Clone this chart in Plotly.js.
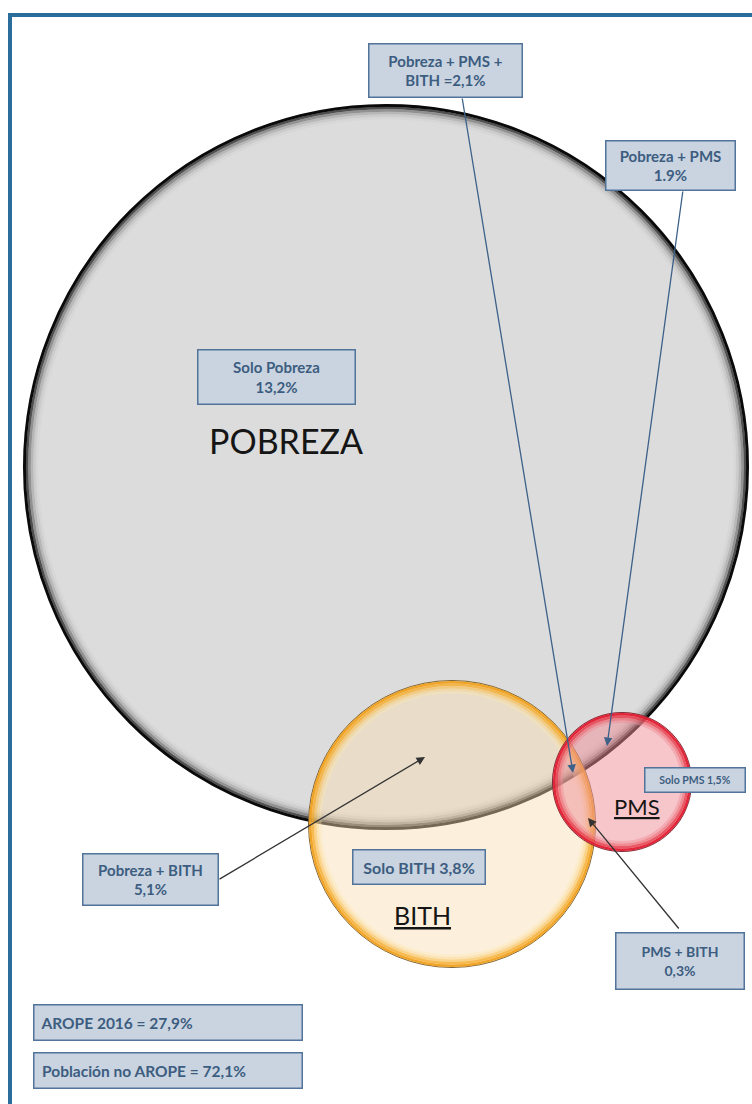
<!DOCTYPE html>
<html>
<head>
<meta charset="utf-8">
<script src="https://cdn.plot.ly/plotly-3.0.1.min.js"></script>
<style>html,body{margin:0;padding:0;background:#fff;}#chart{width:752px;height:1104px;}</style>
</head>
<body>
<div id="chart"></div>
<script>
// ---- data ----
const setNames = ["POBREZA", "BITH", "PMS"];
const regionNames = ["Pobreza + PMS +<br>BITH", "Pobreza + PMS", "Solo Pobreza", "Solo PMS", "Pobreza + BITH", "Solo BITH", "PMS + BITH"];
const regionValues = ["2,1%", "1.9%", "13,2%", "1,5%", "5,1%", "3,8%", "0,3%"];
const regionSeparators = [" =", "<br>", "<br>", " ", "<br>", " ", "<br>"];
const totalNames = ["AROPE 2016", "Población no AROPE"];
const totalValues = ["27,9%", "72,1%"];

// ---- layout (positions / styles) ----
const circleGeom = {
  POBREZA: {cx: 386, cy: 467, r: 363, fill: "#dcdcdc",
    rings: [[1.5,"rgba(10,10,10,1)",3],[4,"rgba(45,45,45,0.8)",2.5],[6.5,"rgba(95,95,95,0.6)",2.5],[9,"rgba(145,145,145,0.5)",2.5],[11.5,"rgba(185,185,185,0.45)",2.5],[14,"rgba(208,208,208,0.4)",2.5]]},
  BITH: {cx: 452, cy: 824, r: 144, fill: "rgba(248,222,178,0.45)",
    rings: [[0.5,"rgba(110,85,40,0.9)",1],[2.2,"rgba(240,160,30,0.95)",2.5],[4.7,"rgba(245,172,45,0.8)",2.5],[7.2,"rgba(248,190,80,0.6)",2.5],[9.7,"rgba(250,210,130,0.45)",2.5],[12.2,"rgba(252,228,175,0.35)",2.5]]},
  PMS: {cx: 622, cy: 782, r: 70, fill: "rgba(237,141,149,0.5)",
    rings: [[0.5,"rgba(110,30,40,0.9)",1],[2.2,"rgba(225,30,50,0.95)",2.5],[4.7,"rgba(230,60,75,0.8)",2.5],[7.2,"rgba(235,100,110,0.6)",2.5],[9.7,"rgba(240,140,150,0.45)",2.5]]}
};
const setLabelPos = {POBREZA: [286, 440, 34, false], BITH: [422, 915, 25, true], PMS: [637, 806, 22, true]};
// box centre x, centre y, width, height, font size
const regionBoxes = [[445,70,154,54,15],[670,165,130,50,15],[276,377,158,55,15],[695,780,101,25,10.5],[150,879,136,52,15],[419,867,133,35,16],[680,961,129,57,14]];
// arrows: region index -> [headX, headY, tailX, tailY, colour]
const regionArrows = {0:[573,773,462,97,"#3d6189"],1:[607,746,683,190,"#3d6189"],4:[425,757,218,880,"#333333"],6:[588,818,680,930,"#333333"]};
const totalBoxes = [[167.5,1022,269,36],[167.5,1070,269,36]];

const shapes = [];
function circ(c, rr, fill, line, lw) {
  shapes.push({type:"circle", xref:"x", yref:"y", x0:c.cx-rr, x1:c.cx+rr, y0:c.cy-rr, y1:c.cy+rr,
    fillcolor: fill, line:{color: line, width: lw}, layer:"above"});
}
setNames.forEach(n => {
  const c = circleGeom[n];
  circ(c, c.r, c.fill, "rgba(0,0,0,0)", 0);
  c.rings.forEach(g => circ(c, c.r - g[0], "rgba(0,0,0,0)", g[1], g[2]));
});
// frame
shapes.push({type:"line", xref:"x", yref:"y", x0:8, x1:752, y0:15, y1:15, line:{color:"#2b6e9c", width:4}, layer:"above"});
shapes.push({type:"line", xref:"x", yref:"y", x0:10, x1:10, y0:13, y1:1104, line:{color:"#2b6e9c", width:4}, layer:"above"});

const boxFont = {family:"Lato, 'Open Sans', sans-serif", color:"#3d5d80", weight:700};
const annotations = [];
setNames.forEach(n => {
  const p = setLabelPos[n];
  annotations.push({x:p[0], y:p[1], xref:"x", yref:"y", showarrow:false,
    text: p[3] ? "<u>" + n + "</u>" : n,
    font:{family:"Lato, 'Open Sans', sans-serif", size:p[2], color:"#151515"}});
});
regionNames.forEach((n, i) => {
  const a = regionArrows[i];
  if (a) {
    annotations.push({x:a[0], y:a[1], ax:a[2], ay:a[3], xref:"x", yref:"y", axref:"x", ayref:"y",
      text:"", showarrow:true, arrowhead:2, arrowsize:1.3, arrowwidth:1.3, arrowcolor:a[4], standoff:0, startstandoff:0});
  }
});
regionNames.forEach((n, i) => {
  const b = regionBoxes[i];
  annotations.push({x:b[0], y:b[1], xref:"x", yref:"y", showarrow:false,
    text: n + regionSeparators[i] + regionValues[i],
    width:b[2]-2, height:b[3]-2, borderpad:0, bgcolor:"#c9d4e0", bordercolor:"#52739a", borderwidth:1.5,
    font:Object.assign({size:b[4]}, boxFont), align:"center", valign:"middle"});
});
totalNames.forEach((n, i) => {
  const b = totalBoxes[i];
  annotations.push({x:b[0], y:b[1], xref:"x", yref:"y", showarrow:false,
    text: "  " + n + " = " + totalValues[i],
    width:b[2]-2, height:b[3]-2, borderpad:0, bgcolor:"#c9d4e0", bordercolor:"#52739a", borderwidth:1.5,
    font:Object.assign({size:15.5}, boxFont), align:"left", valign:"middle"});
});

const layout = {
  width:752, height:1104, margin:{l:0,r:0,t:0,b:0},
  paper_bgcolor:"#ffffff", plot_bgcolor:"#ffffff",
  xaxis:{range:[0,752], visible:false, fixedrange:true},
  yaxis:{range:[1104,0], visible:false, fixedrange:true},
  shapes: shapes, annotations: annotations, showlegend:false
};
Plotly.newPlot("chart", [], layout, {staticPlot:true, displayModeBar:false});
</script>
</body>
</html>
